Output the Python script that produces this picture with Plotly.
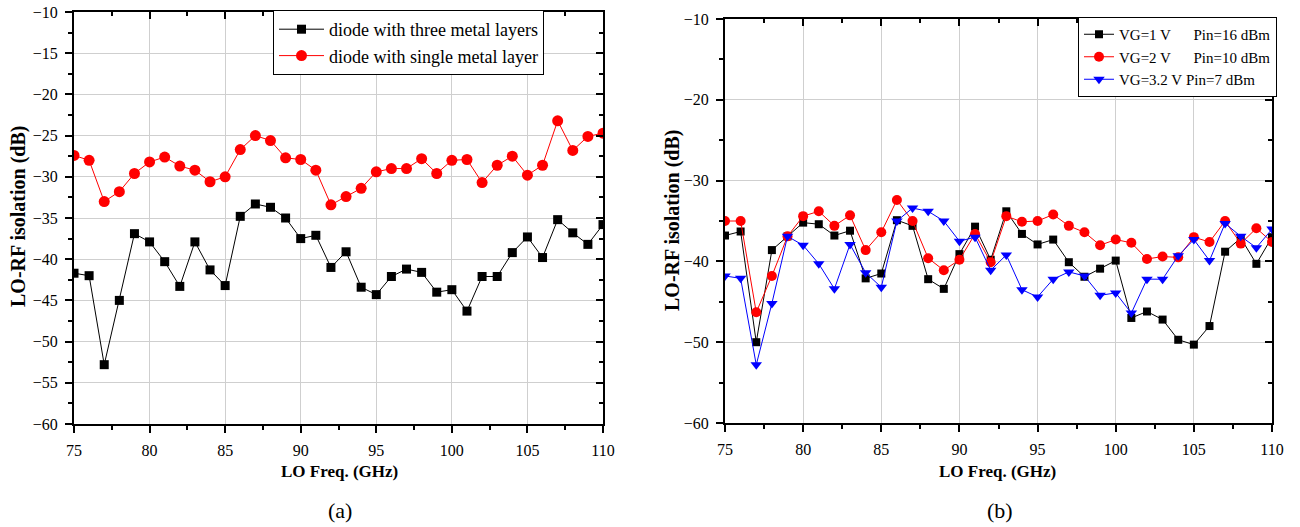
import plotly.graph_objects as go

FONT = "Liberation Serif"

freq = [75, 76, 77, 78, 79, 80, 81, 82, 83, 84, 85, 86, 87, 88, 89, 90, 91, 92,
        93, 94, 95, 96, 97, 98, 99, 100, 101, 102, 103, 104, 105, 106, 107, 108, 109, 110]

# panel (a)
three_metal = [-41.7, -42.0, -52.8, -45.0, -36.9, -37.9, -40.3, -43.3, -37.9, -41.3, -43.2, -34.8,
               -33.3, -33.7, -35.0, -37.5, -37.1, -41.0, -39.1, -43.4, -44.3, -42.1, -41.2, -41.6,
               -44.0, -43.7, -46.3, -42.1, -42.1, -39.2, -37.3, -39.8, -35.2, -36.8, -38.2, -35.8]
single_metal = [-27.4, -28.0, -33.0, -31.8, -29.6, -28.2, -27.6, -28.7, -29.2, -30.6, -30.0, -26.7,
                -25.0, -25.6, -27.7, -27.9, -29.2, -33.4, -32.4, -31.4, -29.4, -29.0, -29.0, -27.8,
                -29.6, -28.0, -27.9, -30.7, -28.6, -27.5, -29.8, -28.6, -23.2, -26.8, -25.1, -24.7]

# panel (b)
vg1 = [-36.8, -36.3, -50.0, -38.6, -36.9, -35.2, -35.4, -36.8, -36.2, -42.1, -41.5, -34.9,
       -35.6, -42.2, -43.4, -39.1, -35.7, -39.8, -33.8, -36.6, -37.9, -37.3, -40.1, -41.9,
       -40.9, -39.9, -47.0, -46.2, -47.2, -49.7, -50.3, -48.0, -38.8, -37.1, -40.3, -37.0]
vg2 = [-35.0, -35.0, -46.3, -41.8, -36.9, -34.4, -33.8, -35.6, -34.3, -38.6, -36.4, -32.4,
       -35.0, -39.6, -41.1, -39.8, -36.6, -40.1, -34.4, -35.1, -35.0, -34.2, -35.6, -36.4,
       -38.0, -37.3, -37.7, -39.7, -39.4, -39.5, -37.0, -37.6, -35.0, -37.8, -35.9, -37.6]
vg32 = [-41.8, -42.1, -52.8, -45.2, -36.9, -38.0, -40.3, -43.4, -37.9, -41.4, -43.2, -35.0,
        -33.4, -33.8, -35.0, -37.5, -37.0, -41.1, -39.2, -43.5, -44.4, -42.2, -41.3, -41.8,
        -44.2, -43.9, -46.4, -42.2, -42.2, -39.3, -37.3, -39.9, -35.3, -36.9, -38.3, -36.0]

NB = "\u00a0"
names_a = ["diode with three metal layers", "diode with single metal layer"]
names_b = ["VG=1 V" + NB * 6 + "Pin=16 dBm",
           "VG=2 V" + NB * 6 + "Pin=10 dBm",
           "VG=3.2 V" + NB + "Pin=7 dBm"]

# the page body margin is removed by a post script, so the figure fills the window
W, H = 1300, 527

def px(x):
    return x / W

def py(y):
    return 1 - y / H

fig = go.Figure()

fig.add_trace(go.Scatter(x=freq, y=three_metal, name=names_a[0], mode="lines+markers",
                         line=dict(color="black", width=1),
                         marker=dict(symbol="square", size=9, color="black"),
                         xaxis="x", yaxis="y", legend="legend"))
fig.add_trace(go.Scatter(x=freq, y=single_metal, name=names_a[1], mode="lines+markers",
                         line=dict(color="red", width=1),
                         marker=dict(symbol="circle", size=11, color="red"),
                         xaxis="x", yaxis="y", legend="legend"))

fig.add_trace(go.Scatter(x=freq, y=vg1, name=names_b[0], mode="lines+markers",
                         line=dict(color="black", width=1),
                         marker=dict(symbol="square", size=8, color="black"),
                         xaxis="x2", yaxis="y2", legend="legend2"))
fig.add_trace(go.Scatter(x=freq, y=vg2, name=names_b[1], mode="lines+markers",
                         line=dict(color="red", width=1),
                         marker=dict(symbol="circle", size=10, color="red"),
                         xaxis="x2", yaxis="y2", legend="legend2"))
fig.add_trace(go.Scatter(x=freq, y=vg32, name=names_b[2], mode="lines+markers",
                         line=dict(color="blue", width=1),
                         marker=dict(symbol="triangle-down", size=10, color="blue"),
                         xaxis="x2", yaxis="y2", legend="legend2"))

# empty traces to host mirrored (inward tick) axes
for xa, ya in (("x3", "y3"), ("x4", "y4")):
    fig.add_trace(go.Scatter(x=[], y=[], xaxis=xa, yaxis=ya, showlegend=False, hoverinfo="skip"))

tickfont = dict(family=FONT, size=16, color="black")

def base_axis(**kw):
    d = dict(showline=True, linecolor="black", linewidth=2, mirror=True,
             ticks="outside", ticklen=7, tickwidth=2, tickcolor="black",
             showgrid=True, gridcolor="#cfcfcf", gridwidth=1, zeroline=False,
             tickfont=tickfont, ticklabelstandoff=4, automargin=False,
             ticklabeloverflow="allow")
    d.update(kw)
    return d

def mirror_axis(**kw):
    d = dict(showline=False, ticks="inside", ticklen=7, tickwidth=2, tickcolor="black",
             showgrid=False, zeroline=False, showticklabels=False, automargin=False)
    d.update(kw)
    return d

def minor(dt, side="outside", grid=False):
    return dict(dtick=dt, ticks=side, ticklen=4, tickwidth=2, tickcolor="black", showgrid=grid)

xdom_a = [px(74), px(603)]
ydom_a = [py(424), py(12)]
xdom_b = [px(725), px(1272)]
ydom_b = [py(423), py(19)]

fig.update_layout(
    width=W, height=H,
    margin=dict(l=0, r=0, t=0, b=0, autoexpand=False),
    paper_bgcolor="white", plot_bgcolor="white",
    font=dict(family=FONT, color="black"),
    hovermode=False,
    xaxis=base_axis(domain=xdom_a, range=[75, 110], tick0=75, dtick=5, anchor="y", minor=minor(2.5)),
    yaxis=base_axis(domain=ydom_a, range=[-60, -10], tick0=-60, dtick=5, anchor="x", minor=minor(2.5)),
    xaxis2=base_axis(domain=xdom_b, range=[75, 110], tick0=75, dtick=5, anchor="y2", minor=minor(2.5)),
    yaxis2=base_axis(domain=ydom_b, range=[-60, -10], tick0=-60, dtick=10, anchor="x2", minor=minor(5)),
    xaxis3=mirror_axis(overlaying="x", side="top", anchor="y3", range=[75, 110], tick0=75, dtick=5,
                       minor=minor(2.5, "inside")),
    yaxis3=mirror_axis(overlaying="y", side="right", anchor="x3", range=[-60, -10], tick0=-60, dtick=5,
                       minor=minor(2.5, "inside")),
    xaxis4=mirror_axis(overlaying="x2", side="top", anchor="y4", range=[75, 110], tick0=75, dtick=5,
                       minor=minor(2.5, "inside")),
    yaxis4=mirror_axis(overlaying="y2", side="right", anchor="x4", range=[-60, -10], tick0=-60, dtick=10,
                       minor=minor(5, "inside")),
    legend=dict(x=px(273), y=py(10), xanchor="left", yanchor="top",
                bgcolor="white", bordercolor="black", borderwidth=1,
                font=dict(family=FONT, size=18, color="black"),
                itemwidth=45, tracegroupgap=0),
    legend2=dict(x=px(1078), y=py(17), xanchor="left", yanchor="top",
                 bgcolor="white", bordercolor="black", borderwidth=1,
                 font=dict(family=FONT, size=15, color="black"),
                 itemwidth=30, tracegroupgap=0),
    showlegend=True,
)

ytitle_font = dict(family=FONT, size=20, color="black")
xtitle_font = dict(family=FONT, size=17, color="black")
fig.add_annotation(text="<b>LO-RF isolation (dB)</b>", x=px(18), y=py(216), xref="paper", yref="paper",
                   textangle=-90, showarrow=False, font=ytitle_font, xanchor="center", yanchor="middle")
fig.add_annotation(text="<b>LO-RF isolation (dB)</b>", x=px(672), y=py(220), xref="paper", yref="paper",
                   textangle=-90, showarrow=False, font=ytitle_font, xanchor="center", yanchor="middle")
fig.add_annotation(text="<b>LO Freq. (GHz)</b>", x=px(339), y=py(471), xref="paper", yref="paper",
                   showarrow=False, font=xtitle_font, xanchor="center", yanchor="middle")
fig.add_annotation(text="<b>LO Freq. (GHz)</b>", x=px(997), y=py(471), xref="paper", yref="paper",
                   showarrow=False, font=xtitle_font, xanchor="center", yanchor="middle")
fig.add_annotation(text="(a)", x=px(340), y=py(510), xref="paper", yref="paper",
                   showarrow=False, font=dict(family=FONT, size=22, color="black"),
                   xanchor="center", yanchor="middle")
fig.add_annotation(text="(b)", x=px(1000), y=py(510), xref="paper", yref="paper",
                   showarrow=False, font=dict(family=FONT, size=22, color="black"),
                   xanchor="center", yanchor="middle")

fig.write_html("out.html", config={"displayModeBar": False},
               post_script="document.body.style.margin='0';document.body.style.overflow='hidden';")
